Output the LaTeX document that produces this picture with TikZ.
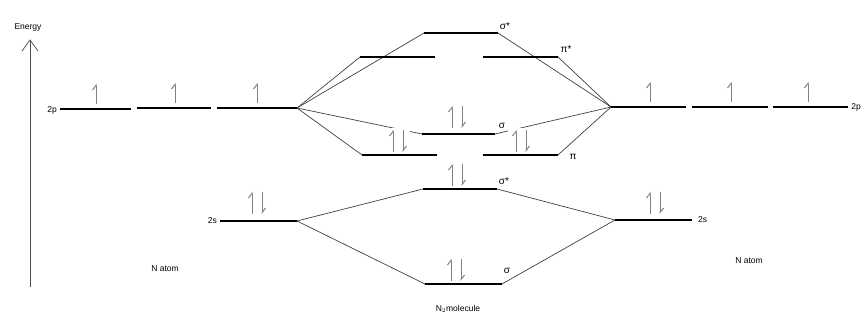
\documentclass[tikz,border=0pt]{standalone}
\usepackage{fontspec}
\setmainfont{Liberation Sans}
\usetikzlibrary{arrows.meta}
\begin{document}
\begin{tikzpicture}[x=1pt,y=-1pt,
  level/.style={line width=1.8pt,black},
  conn/.style={line width=0.7pt,black!75},
  elec/.style={line width=1pt,black!50,-{Straight Barb[left,length=4.5pt,width=7pt]}},
  lbl/.style={font=\fontsize{8.5}{10}\selectfont,inner sep=0pt},
  glbl/.style={font=\fontsize{10}{12}\selectfont,inner sep=0pt}]
\useasboundingbox (0,0) rectangle (862,320);
\clip (0,0) rectangle (862,320);
\newcommand\elup[2]{\draw[elec] (#1,#2) -- (#1,#2-20);}
\newcommand\elpair[2]{%
  \fill[white] (#1-8,#2+1) rectangle (#1+17,#2-24);
  \draw[elec] (#1,#2) -- (#1,#2-22);
  \draw[elec] (#1+10,#2-22) -- (#1+10,#2);}
% level end points
\coordinate (l1a) at (60,109);  \coordinate (l1b) at (131,109);
\coordinate (l2a) at (137,108); \coordinate (l2b) at (211,108);
\coordinate (l3a) at (217,108); \coordinate (l3b) at (297,108);
\coordinate (r1a) at (611,107); \coordinate (r1b) at (686,107);
\coordinate (r2a) at (692,107); \coordinate (r2b) at (768,107);
\coordinate (r3a) at (773,107); \coordinate (r3b) at (848,107);
\coordinate (ssa) at (424,33);  \coordinate (ssb) at (498,33);
\coordinate (ps1a) at (360,57); \coordinate (ps1b) at (435,57);
\coordinate (ps2a) at (483,57); \coordinate (ps2b) at (558,57);
\coordinate (sa) at (422,134);  \coordinate (sb) at (495,134);
\coordinate (p1a) at (362,155); \coordinate (p1b) at (437,155);
\coordinate (p2a) at (483,155); \coordinate (p2b) at (558,155);
\coordinate (s2sa) at (423,189); \coordinate (s2sb) at (497,189);
\coordinate (s2a) at (425,284);  \coordinate (s2b) at (502,284);
\coordinate (l2sa) at (220,221); \coordinate (l2sb) at (297,221);
\coordinate (r2sa) at (615,220); \coordinate (r2sb) at (692,220);
% connectors
\draw[conn] (l3b) -- (ssa);
\draw[conn] (l3b) -- (ps1a);
\draw[conn] (l3b) -- (sa);
\draw[conn] (l3b) -- (p1a);
\draw[conn] (r1a) -- (ssb);
\draw[conn] (r1a) -- (ps2b);
\draw[conn] (r1a) -- (sb);
\draw[conn] (r1a) -- (p2b);
\draw[conn] (l2sb) -- (s2sa);
\draw[conn] (l2sb) -- (s2a);
\draw[conn] (r2sa) -- (s2sb);
\draw[conn] (r2sa) -- (s2b);
% electrons
\elup{96}{104} \elup{175}{103} \elup{257}{103}
\elup{650}{102} \elup{731}{102} \elup{808}{102}
\elpair{452}{128}
\elpair{393}{152}
\elpair{516}{152}
\elpair{452}{186}
\elpair{451}{281}
\elpair{252}{214}
\elpair{650}{214}
% levels
\foreach \a/\b in {l1a/l1b,l2a/l2b,l3a/l3b,r1a/r1b,r2a/r2b,r3a/r3b,ssa/ssb,ps1a/ps1b,ps2a/ps2b,sa/sb,p1a/p1b,p2a/p2b,s2sa/s2sb,s2a/s2b,l2sa/l2sb,r2sa/r2sb}
  \draw[level] (\a) -- (\b);
% energy axis
\coordinate (ebot) at (30,287);
\coordinate (etop) at (30,40);
\draw[line width=0.7pt,black!70] (ebot) -- (etop);
\draw[line width=0.7pt,black!70] (22,51) -- (etop) -- (38,51);
\node[lbl] (energy) at (28,27) {Energy};
% labels
\node[lbl,anchor=east] (t2pl) at (57,110) {2p};
\node[lbl,anchor=east] (t2pr) at (861,107) {2p};
\node[lbl,anchor=east] (t2sl) at (217,221) {2s};
\node[lbl,anchor=west] (t2sr) at (698,220) {2s};
\node[glbl] (tss) at (505,26) {σ*};
\node[glbl] (tps) at (566,49) {π*};
\node[glbl] (ts) at (502,126) {σ};
\node[glbl] (tp) at (573,157) {π};
\node[glbl] (ts2s) at (504,181) {σ*};
\node[glbl] (ts2) at (507,271) {σ};
\node[lbl] (nl) at (165,269) {N atom};
\node[lbl] (nr) at (749,261) {N atom};
\node[lbl] (mol) at (458,309) {N$_{2}$molecule};
\end{tikzpicture}
\end{document}
